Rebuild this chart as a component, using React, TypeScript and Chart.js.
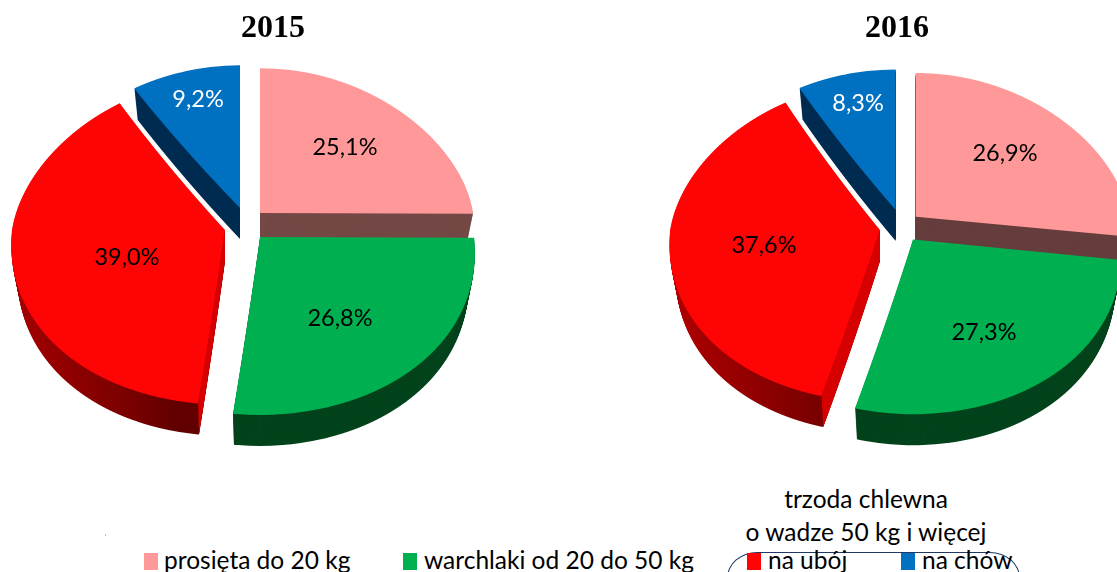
import React, { useEffect, useRef } from "react";
import { Chart, registerables } from "chart.js";

Chart.register(...registerables);

const categories = ["prosięta do 20 kg", "warchlaki od 20 do 50 kg", "na ubój", "na chów"];
const values2015 = [25.1, 26.8, 39.0, 9.2];
const values2016 = [26.9, 27.3, 37.6, 8.3];
const topColors = ["#FF9999", "#00B050", "#FF0404", "#0070C0"];
const labelColors = ["#000000", "#000000", "#000000", "#FFFFFF"];
const legendCaption = ["trzoda chlewna", "o wadze 50 kg i więcej"];

const RADIUS = 213;
const DEPTH = 31;
const BASE_SHRINK = 0.03;
const LABEL_FONT = '23.5px Lato, "Noto Sans", sans-serif';
const LEGEND_FONT = '24.5px Lato, "Noto Sans", sans-serif';

type Slice = { ax: number; ay: number; up: number; down: number; sx: number; lx: number; ly: number };
type Pie = {
  title: string;
  values: number[];
  left: number;
  width: number;
  slices: Slice[];
  wall: string;
};

const pies: Pie[] = [
  {
    title: "2015",
    values: values2015,
    left: 0,
    width: 546,
    wall: "#744845",
    slices: [
      { ax: 260, ay: 213, up: 0.68, down: 0.82, sx: 1.0, lx: 345, ly: 147 },
      { ax: 260, ay: 237, up: 0.68, down: 0.835, sx: 1.005, lx: 340, ly: 318 },
      { ax: 225, ay: 230, up: 0.71, down: 0.82, sx: 1.0, lx: 127, ly: 257 },
      { ax: 240, ay: 208, up: 0.67, down: 0.82, sx: 1.0, lx: 198, ly: 99 },
    ],
  },
  {
    title: "2016",
    values: values2016,
    left: 650,
    width: 494,
    wall: "#663D3D",
    slices: [
      { ax: 915.7, ay: 216.7, up: 0.675, down: 0.8, sx: 1.0, lx: 1005, ly: 153 },
      { ax: 913, ay: 239.5, up: 0.68, down: 0.82, sx: 0.975, lx: 984, ly: 332 },
      { ax: 880, ay: 230, up: 0.69, down: 0.807, sx: 0.985, lx: 764, ly: 245 },
      { ax: 895.7, ay: 210, up: 0.66, down: 0.8, sx: 1.0, lx: 858, ly: 103 },
    ],
  },
];

const C_UP = 0.00075;
const C_DOWN = 0.0005;

function warp(dY: number) {
  return 1 + (dY < 0 ? C_UP : C_DOWN) * dY;
}

function layerScale(depth: number) {
  return 1 - (BASE_SHRINK * depth) / DEPTH;
}

function paintArc(ctx: CanvasRenderingContext2D, arc: any, s: Slice, left: number, depth: number, fill: any, H: number, W: number) {
  const ghost = Object.create(arc);
  ghost.options = { ...arc.options, backgroundColor: fill, borderWidth: 0 };
  const ax = s.ax - left;
  const ay = s.ay + depth;
  const h = 2;
  const startY = Math.max(0, Math.floor(ay - 165));
  const endY = Math.min(H, Math.ceil(ay + 190));
  const sa = arc.startAngle;
  const ea = arc.endAngle;
  let minS = Math.min(0, Math.sin(sa), Math.sin(ea));
  let maxS = Math.max(0, Math.sin(sa), Math.sin(ea));
  for (let a = -Math.PI * 2.5; a <= Math.PI * 2.5; a += Math.PI) {
    if (a >= sa && a <= ea) {
      if (Math.sin(a) > 0) maxS = 1;
      else minS = -1;
    }
  }
  const yMin = ay + minS * RADIUS * s.up - 3;
  const yMax = ay + maxS * RADIUS * s.down + 3;
  for (let Y = startY; Y < endY; Y += h) {
    if (Y + h < yMin || Y > yMax) continue;
    const dY = Y + h / 2 - ay;
    const k = dY < 0 ? s.up : s.down;
    ctx.save();
    ctx.beginPath();
    ctx.rect(0, Y, W, h);
    ctx.clip();
    ctx.translate(ax, ay);
    ctx.scale(warp(dY) * s.sx * layerScale(depth), k);
    ctx.translate(-arc.x, -arc.y);
    ghost.draw(ctx);
    ctx.restore();
  }
}

function edgePoint(arc: any, s: Slice, left: number, frac: number, depth: number) {
  const r = arc.outerRadius * frac;
  const dx = Math.cos(arc.startAngle) * r;
  const dy = Math.sin(arc.startAngle) * r;
  const dY = dy * (dy < 0 ? s.up : s.down);
  return { x: s.ax - left + dx * warp(dY) * s.sx * layerScale(depth), y: s.ay + dY + depth };
}

const pie3d = {
  id: "pie3d",
  beforeDatasetsDraw(chart: any, _args: any, opts: any) {
    const pie: Pie = opts.pie;
    const ctx: CanvasRenderingContext2D = chart.ctx;
    const arcs = chart.getDatasetMeta(0).data;
    const order = [0, 3, 2, 1];
    const W = chart.width;
    const H = chart.height;
    for (const i of order) {
      const s = pie.slices[i];
      const arc = arcs[i];
      const ax = s.ax - pie.left;
      let side: any;
      if (i === 0) side = pie.wall;
      else if (i === 1) side = "#03431C";
      else if (i === 3) side = "#002B50";
      else {
        const g = ctx.createLinearGradient(ax - RADIUS, 0, ax, 0);
        g.addColorStop(0, "#B80000");
        g.addColorStop(0.8, "#7A0000");
        g.addColorStop(1, "#620000");
        side = g;
      }
      for (let d = DEPTH; d >= 1; d--) paintArc(ctx, arc, s, pie.left, d, side, H, W);
      if (i === 2) {
        ctx.beginPath();
        const n = 12;
        for (let t = 0; t <= n; t++) {
          const p = edgePoint(arc, s, pie.left, t / n, 0);
          if (t === 0) ctx.moveTo(p.x, p.y);
          else ctx.lineTo(p.x, p.y);
        }
        for (let t = n; t >= 0; t--) {
          const p = edgePoint(arc, s, pie.left, t / n, DEPTH);
          ctx.lineTo(p.x, p.y);
        }
        ctx.closePath();
        ctx.fillStyle = "#D60000";
        ctx.fill();
      }
      paintArc(ctx, arc, s, pie.left, 0, topColors[i], H, W);
    }
    return false;
  },
  afterDraw(chart: any, _args: any, opts: any) {
    const pie: Pie = opts.pie;
    const ctx: CanvasRenderingContext2D = chart.ctx;
    ctx.save();
    ctx.font = LABEL_FONT;
    ctx.textAlign = "center";
    ctx.textBaseline = "middle";
    pie.values.forEach((v, i) => {
      ctx.fillStyle = labelColors[i];
      ctx.fillText(v.toFixed(1).replace(".", ",") + "%", pie.slices[i].lx - pie.left, pie.slices[i].ly);
    });
    ctx.restore();
  },
};

function PieChart({ pie }: { pie: Pie }) {
  const ref = useRef<HTMLCanvasElement>(null);
  useEffect(() => {
    const chart = new Chart(ref.current as HTMLCanvasElement, {
      type: "pie",
      data: {
        labels: categories,
        datasets: [{ data: pie.values, backgroundColor: topColors, borderWidth: 0, radius: RADIUS } as any],
      },
      options: {
        responsive: false,
        animation: false,
        events: [],
        layout: { padding: 0 },
        plugins: {
          legend: { display: false },
          tooltip: { enabled: false },
          title: {
            display: true,
            text: pie.title,
            color: "#000",
            font: { family: '"Liberation Serif", serif', size: 32, weight: "bold", lineHeight: 1.2 },
            padding: { top: 10, bottom: 0 },
          },
          pie3d: { pie },
        } as any,
      },
      plugins: [pie3d as any],
    });
    return () => chart.destroy();
  }, [pie]);
  return (
    <canvas
      ref={ref}
      width={pie.width}
      height={480}
      style={{ position: "absolute", left: pie.left, top: 0, width: pie.width, height: 480 }}
    />
  );
}

const text: React.CSSProperties = {
  position: "absolute",
  font: LEGEND_FONT,
  color: "#000",
  whiteSpace: "nowrap",
  lineHeight: "30px",
};

const legendItems = [
  { swatch: 144, text: 164, i: 0 },
  { swatch: 403, text: 424, i: 1 },
  { swatch: 747, text: 768, i: 2 },
  { swatch: 901, text: 922, i: 3 },
];

export default function App() {
  return (
    <div style={{ position: "absolute", left: 0, top: 0, width: 1117, height: 572, overflow: "hidden", background: "#fff" }}>
      {pies.map((p) => (
        <PieChart key={p.title} pie={p} />
      ))}
      <div style={{ ...text, left: 666, width: 400, textAlign: "center", top: 484 }}>{legendCaption[0]}</div>
      <div style={{ ...text, left: 666, width: 400, textAlign: "center", top: 517 }}>{legendCaption[1]}</div>
      <div
        style={{
          position: "absolute",
          left: 727,
          top: 552,
          width: 293,
          height: 60,
          border: "1px solid #1F3864",
          borderRadius: "30px / 26px",
          boxSizing: "border-box",
        }}
      />
      {legendItems.map((it) => (
        <React.Fragment key={it.i}>
          <div style={{ position: "absolute", left: it.swatch, top: 553, width: 14, height: 17, background: topColors[it.i] }} />
          <div style={{ ...text, left: it.text, top: 545 }}>{categories[it.i]}</div>
        </React.Fragment>
      ))}
      <div style={{ position: "absolute", left: 105, top: 534, width: 1, height: 2, background: "#bbb" }} />
    </div>
  );
}
